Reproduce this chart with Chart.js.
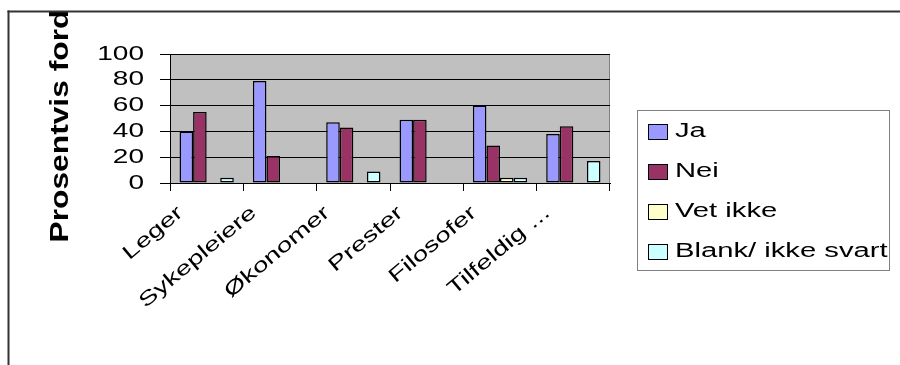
<!DOCTYPE html>
<html>
<head>
<meta charset="utf-8">
<script src="https://cdn.jsdelivr.net/npm/chart.js@4"></script>
<style>
  html, body { margin: 0; padding: 0; background: #ffffff; overflow: hidden; }
  #wrap { width: 900px; height: 365px; }
  #chart { display: block; }
</style>
</head>
<body>
<div id="wrap"><canvas id="chart" width="900" height="365"></canvas></div>
<script>
// Survey answers per group, in percent
const categories = ['Leger', 'Sykepleiere', 'Økonomer', 'Prester', 'Filosofer', 'Tilfeldig ...'];
const ja      = [40, 79, 47, 49, 60, 38];
const nei     = [55, 21, 43, 49, 29, 44];
const vetIkke = [0, 0, 0, 0, 4, 0];
const blank   = [4, 0, 9, 0, 4, 17];
const seriesNames = ['Ja', 'Nei', 'Vet ikke', 'Blank/ ikke svart'];
const yTickValues = [0, 20, 40, 60, 80, 100];
const yAxisTitle = 'Prosentvis fordeling';

const FONT = '"Liberation Sans", Arial, sans-serif';
Chart.defaults.font.family = FONT;

const canvas = document.getElementById('chart');
const ctx = canvas.getContext('2d');

// Wide lettering: every label is stretched along its own baseline.
let textStretch = 1.4;
const plainFillText = ctx.fillText;
ctx.fillText = function (text, x, y) {
  this.save();
  this.translate(x, y);
  this.scale(textStretch, 1);
  plainFillText.call(this, text, 0, 0);
  this.restore();
};

// Grey plot background with a light right edge
const plotBackground = {
  id: 'plotBackground',
  beforeDraw(chart) {
    const c = chart.ctx;
    const a = chart.chartArea;
    c.save();
    c.fillStyle = '#c0c0c0';
    c.fillRect(a.left, a.top, a.right - a.left, a.bottom - a.top);
    c.strokeStyle = '#808080';
    c.lineWidth = 1;
    c.beginPath();
    c.moveTo(a.right - 0.5, a.top);
    c.lineTo(a.right - 0.5, a.bottom);
    c.stroke();
    c.restore();
  }
};

// Boxed legend on the right, the rotated axis title and the outer frame
const decorations = {
  id: 'decorations',
  afterDraw(chart) {
    const c = chart.ctx;

    c.save();
    c.strokeStyle = '#808080';
    c.lineWidth = 1;
    c.strokeRect(637.5, 110.5, 252, 160);
    c.font = '20px ' + FONT;
    c.textAlign = 'left';
    c.textBaseline = 'alphabetic';
    textStretch = 1.46;
    chart.data.datasets.forEach((ds, i) => {
      const top = 124 + i * 40;
      c.fillStyle = ds.backgroundColor;
      c.fillRect(648, top, 19, 15);
      c.strokeStyle = '#000000';
      c.lineWidth = 1;
      c.strokeRect(648.5, top + 0.5, 19, 15);
      c.fillStyle = '#000000';
      c.fillText(ds.label, 675, top + 13);
    });
    textStretch = 1.4;
    c.restore();

    c.save();
    c.beginPath();
    c.rect(9, 12, 891, 353);
    c.clip();
    c.translate(68, 242.5);
    c.rotate(-Math.PI / 2);
    c.font = 'bold 25px ' + FONT;
    c.fillStyle = '#000000';
    c.textAlign = 'left';
    c.textBaseline = 'alphabetic';
    textStretch = 1.27;
    c.fillText(yAxisTitle, 0, 0);
    textStretch = 1.4;
    c.restore();

    // Outer frame: left and top edges only
    c.save();
    c.fillStyle = '#ffffff';
    c.fillRect(0, 0, 900, 10.5);
    c.fillRect(0, 0, 7.5, 365);
    c.fillStyle = '#333333';
    c.fillRect(7.5, 10.5, 892.5, 2);
    c.fillRect(7.5, 10.5, 2, 354.5);
    c.restore();
  }
};

const barStyle = {
  borderColor: '#000000',
  borderWidth: 1.5,
  borderSkipped: false,
  categoryPercentage: 0.74,
  barPercentage: 1.0
};

new Chart(ctx, {
  type: 'bar',
  data: {
    labels: categories,
    datasets: [
      Object.assign({ label: seriesNames[0], data: ja,      backgroundColor: '#9999ff' }, barStyle),
      Object.assign({ label: seriesNames[1], data: nei,     backgroundColor: '#993366' }, barStyle),
      Object.assign({ label: seriesNames[2], data: vetIkke, backgroundColor: '#ffffcc' }, barStyle),
      Object.assign({ label: seriesNames[3], data: blank,   backgroundColor: '#ccffff' }, barStyle)
    ]
  },
  options: {
    responsive: false,
    animation: false,
    devicePixelRatio: 1,
    layout: { padding: { left: 0, top: 54, right: 290, bottom: 0 } },
    plugins: {
      legend: { display: false },
      tooltip: { enabled: false }
    },
    scales: {
      x: {
        grid: { offset: true, drawOnChartArea: false, drawTicks: true, tickLength: 8, color: '#000000', lineWidth: 1 },
        border: { display: true, color: '#000000', width: 1 },
        ticks: {
          autoSkip: false,
          minRotation: 40,
          maxRotation: 40,
          labelOffset: -26,
          padding: 10,
          color: '#000000',
          font: { size: 20 }
        },
        afterFit(scale) { scale.height = 182; }
      },
      y: {
        min: 0,
        max: 100,
        afterBuildTicks(scale) { scale.ticks = yTickValues.map(v => ({ value: v })); },
        grid: { color: '#000000', lineWidth: 1, drawTicks: true, tickLength: 10 },
        border: { display: true, color: '#000000', width: 1 },
        ticks: { autoSkip: false, padding: 16, color: '#000000', font: { size: 20 } },
        afterFit(scale) { scale.width = 170; }
      }
    }
  },
  plugins: [plotBackground, decorations]
});
</script>
</body>
</html>
